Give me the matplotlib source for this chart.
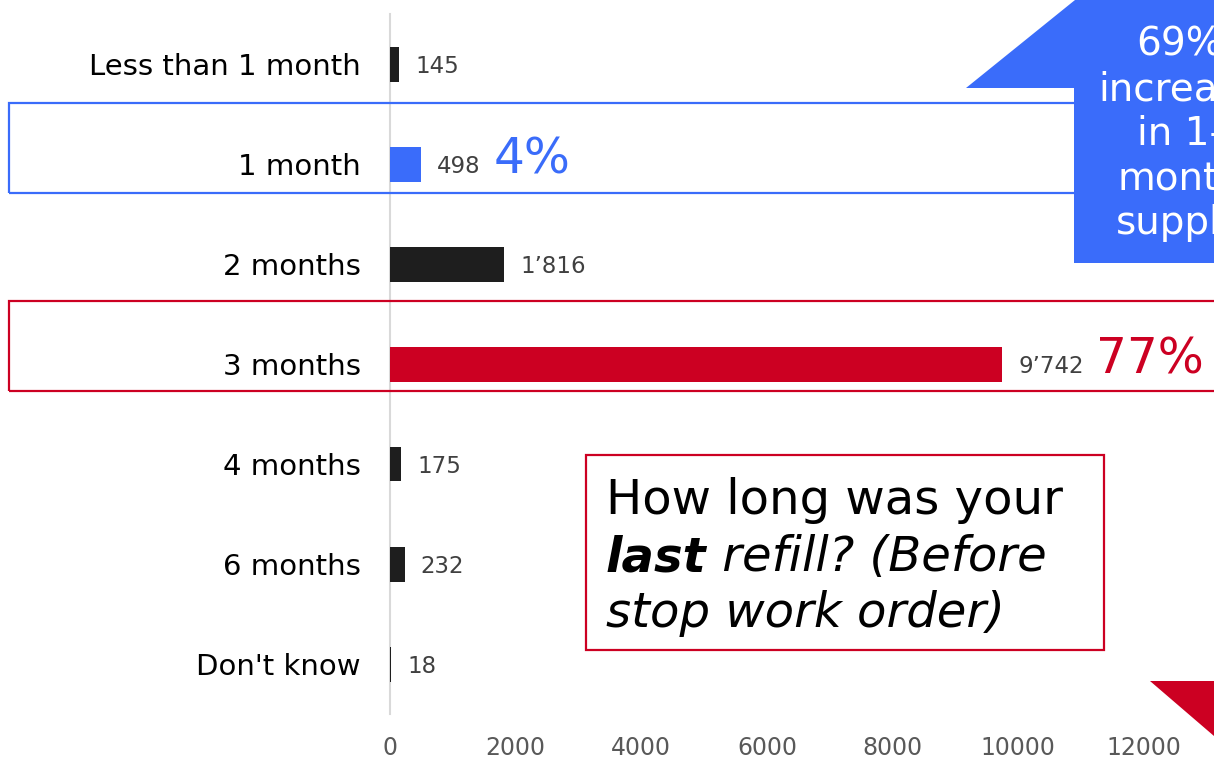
import matplotlib.pyplot as plt
from matplotlib.patches import Rectangle, Polygon

# refill duration survey
categories = ["Less than 1 month", "1 month", "2 months", "3 months",
              "4 months", "6 months", "Don't know"]
counts = [145, 498, 1816, 9742, 175, 232, 18]
share_labels = ["", "4%", "", "77%", "", "", ""]
xticks = [0, 2000, 4000, 6000, 8000, 10000, 12000]

BLUE = "#3a6cfa"
RED = "#cc0022"
DARK = "#1e1e1e"
bar_colors = [DARK, BLUE, DARK, RED, DARK, DARK, DARK]
share_colors = [DARK, BLUE, DARK, RED, DARK, DARK, DARK]

W, H = 1214, 758
fig = plt.figure(figsize=(W / 100, H / 100), dpi=100)


def fx(x):
    return x / W


def fy(y):
    return 1 - y / H


ax = fig.add_axes([fx(390), fy(714), fx(1214 - 390), 700 / H])
ypos = list(range(len(categories)))
ax.barh(ypos, counts, height=0.35, color=bar_colors, zorder=3)
ax.set_ylim(len(categories) - 0.5, -0.5)
ax.set_xlim(0, 13114)
ax.set_yticks(ypos)
ax.set_yticklabels(categories, fontsize=21, color="black")
ax.set_xticks(xticks)
ax.set_xticklabels([str(t) for t in xticks], fontsize=17, color="#595959")
ax.tick_params(axis="y", length=0, pad=21)
ax.tick_params(axis="x", length=0, pad=16)
for s in ["top", "right", "bottom"]:
    ax.spines[s].set_visible(False)
ax.spines["left"].set_color("#d9d9d9")
ax.spines["left"].set_linewidth(1.5)
ax.patch.set_visible(False)

for i, v in enumerate(counts):
    lab = f"{v:,}".replace(",", "\u2019")
    t = ax.annotate(lab, xy=(v, i), xytext=(11.5, 0), textcoords="offset points",
                    va="center_baseline", ha="left", fontsize=16.5,
                    color="#404040", zorder=5)
    if share_labels[i]:
        ax.annotate(share_labels[i], xy=(1, 0.5), xycoords=t,
                    xytext=(9, 5), textcoords="offset points",
                    va="center", ha="left", fontsize=35,
                    color=share_colors[i], zorder=5)

# highlight frames around 1 month and 3 months rows
fig.patches.append(Rectangle((fx(9), fy(193)), fx(1300), 90 / H, fill=False,
                             edgecolor=BLUE, linewidth=1.6,
                             transform=fig.transFigure, zorder=1))
fig.patches.append(Rectangle((fx(9), fy(391)), fx(1300), 90 / H, fill=False,
                             edgecolor=RED, linewidth=1.6,
                             transform=fig.transFigure, zorder=1))

# blue up arrow at top right
arrow_up = [(1074, 263), (1074, 88), (966, 88), (1075, 0), (1214, 0), (1214, 263)]
fig.patches.append(Polygon([(fx(x), fy(y)) for x, y in arrow_up], closed=True,
                           facecolor=BLUE, edgecolor="none",
                           transform=fig.transFigure, zorder=2))
fig.text(fx(1180), fy(134), "69%\nincrease\nin 1-\nmonth\nsupply", ha="center",
         va="center", fontsize=28, color="white", linespacing=1.22, zorder=6)

# red down arrow at bottom right
arrow_down = [(1150, 681), (1214, 681), (1214, 736)]
fig.patches.append(Polygon([(fx(x), fy(y)) for x, y in arrow_down], closed=True,
                           facecolor=RED, edgecolor="none",
                           transform=fig.transFigure, zorder=2))

# question box
fig.patches.append(Rectangle((fx(586), fy(650)), fx(1104 - 586), 195 / H,
                             facecolor="white", edgecolor=RED, linewidth=1.6,
                             transform=fig.transFigure, zorder=4))
qsize = 34.7
fig.text(fx(606), fy(514), "How long was your", fontsize=qsize, va="baseline",
         ha="left", zorder=6)
t_last = fig.text(fx(606), fy(571), "last", fontsize=qsize, va="baseline",
                  ha="left", fontweight="bold", fontstyle="italic", zorder=6)
fig.canvas.draw()
bb = t_last.get_window_extent()
fig.text(bb.x1 / W, fy(571), " refill? (Before", fontsize=qsize,
         va="baseline", ha="left", fontstyle="italic", zorder=6)
fig.text(fx(606), fy(627), "stop work order)", fontsize=qsize, va="baseline",
         ha="left", fontstyle="italic", zorder=6)

fig.savefig("out.png", dpi=100)
